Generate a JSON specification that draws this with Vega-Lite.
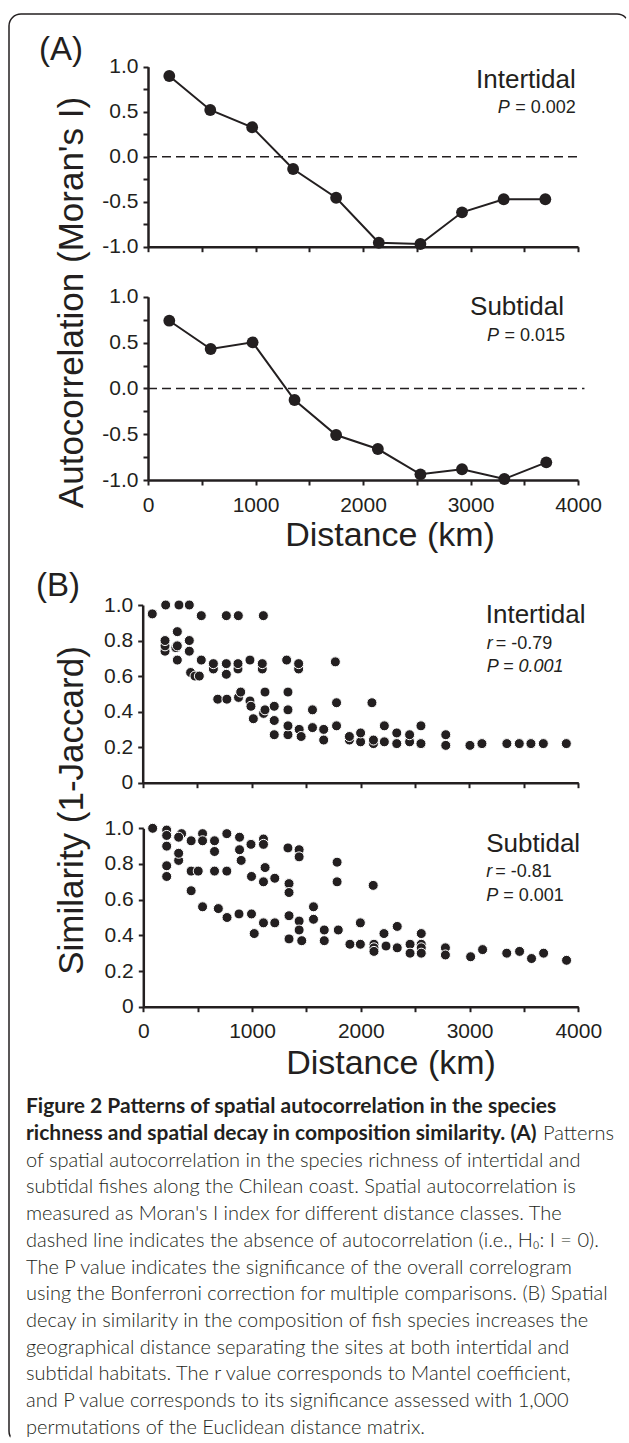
{
  "$schema": "https://vega.github.io/schema/vega-lite/v6.json",
  "width": 620,
  "height": 1429,
  "autosize": {"type": "none"},
  "padding": {"left": 9, "top": 14, "right": 0, "bottom": 0},
  "background": "white",
  "config": {
    "view": {
      "strokeWidth": 1.5,
      "cornerRadius": 12,
      "stroke": {
        "gradient": "linear", "x1": 0, "y1": 0, "x2": 1, "y2": 1,
        "stops": [
          {"offset": 0, "color": "#231f20"},
          {"offset": 0.4985, "color": "#231f20"},
          {"offset": 0.4995, "color": "rgba(35,31,32,0)"},
          {"offset": 1, "color": "rgba(35,31,32,0)"}
        ]
      }
    },
    "font": "Liberation Sans",
    "axis": {
      "grid": false,
      "domainColor": "#231f20",
      "domainWidth": 2.5,
      "tickColor": "#231f20",
      "tickWidth": 2,
      "tickSize": 5,
      "labelColor": "#231f20",
      "labelFont": "Liberation Sans",
      "labelFontSize": 21,
      "labelOverlap": false,
      "labelFlush": false,
      "titleColor": "#231f20",
      "titleFont": "Liberation Sans",
      "titleFontSize": 35,
      "titleFontWeight": "normal"
    },
    "text": {"font": "Liberation Sans", "color": "#231f20"}
  },
  "datasets": {
    "moranIntertidal": [
      {"distance": 198, "moran": 0.897},
      {"distance": 579, "moran": 0.519},
      {"distance": 969, "moran": 0.327},
      {"distance": 1350, "moran": -0.137},
      {"distance": 1750, "moran": -0.456},
      {"distance": 2147, "moran": -0.956},
      {"distance": 2534, "moran": -0.97},
      {"distance": 2921, "moran": -0.618},
      {"distance": 3309, "moran": -0.473},
      {"distance": 3696, "moran": -0.473}
    ],
    "moranSubtidal": [
      {"distance": 198, "moran": 0.739},
      {"distance": 583, "moran": 0.43},
      {"distance": 973, "moran": 0.503},
      {"distance": 1363, "moran": -0.127},
      {"distance": 1750, "moran": -0.509},
      {"distance": 2138, "moran": -0.662},
      {"distance": 2534, "moran": -0.938},
      {"distance": 2921, "moran": -0.883},
      {"distance": 3315, "moran": -0.989},
      {"distance": 3705, "moran": -0.807}
    ],
    "simIntertidal": [
      {"distance": 88, "similarity": 0.95}, {"distance": 211, "similarity": 1.0}, {"distance": 333, "similarity": 1.0}, {"distance": 428, "similarity": 1.0},
      {"distance": 538, "similarity": 0.94}, {"distance": 768, "similarity": 0.94}, {"distance": 878, "similarity": 0.94}, {"distance": 1108, "similarity": 0.94},
      {"distance": 205, "similarity": 0.74}, {"distance": 205, "similarity": 0.77}, {"distance": 205, "similarity": 0.80},
      {"distance": 318, "similarity": 0.69}, {"distance": 305, "similarity": 0.76}, {"distance": 318, "similarity": 0.77}, {"distance": 318, "similarity": 0.85},
      {"distance": 428, "similarity": 0.74}, {"distance": 428, "similarity": 0.80}, {"distance": 538, "similarity": 0.69},
      {"distance": 649, "similarity": 0.64}, {"distance": 649, "similarity": 0.67}, {"distance": 440, "similarity": 0.62}, {"distance": 480, "similarity": 0.60}, {"distance": 520, "similarity": 0.60},
      {"distance": 768, "similarity": 0.61}, {"distance": 768, "similarity": 0.67}, {"distance": 875, "similarity": 0.64}, {"distance": 875, "similarity": 0.67},
      {"distance": 985, "similarity": 0.69}, {"distance": 1098, "similarity": 0.64}, {"distance": 1098, "similarity": 0.67},
      {"distance": 1322, "similarity": 0.69}, {"distance": 1432, "similarity": 0.64}, {"distance": 1432, "similarity": 0.67}, {"distance": 1769, "similarity": 0.68},
      {"distance": 689, "similarity": 0.47}, {"distance": 773, "similarity": 0.47}, {"distance": 880, "similarity": 0.48}, {"distance": 900, "similarity": 0.51},
      {"distance": 985, "similarity": 0.46}, {"distance": 994, "similarity": 0.43}, {"distance": 1016, "similarity": 0.36},
      {"distance": 1123, "similarity": 0.51}, {"distance": 1110, "similarity": 0.39}, {"distance": 1123, "similarity": 0.41},
      {"distance": 1208, "similarity": 0.27}, {"distance": 1208, "similarity": 0.35}, {"distance": 1208, "similarity": 0.43},
      {"distance": 1334, "similarity": 0.27}, {"distance": 1334, "similarity": 0.32}, {"distance": 1334, "similarity": 0.41}, {"distance": 1334, "similarity": 0.51},
      {"distance": 1437, "similarity": 0.30}, {"distance": 1455, "similarity": 0.26},
      {"distance": 1559, "similarity": 0.31}, {"distance": 1559, "similarity": 0.41},
      {"distance": 1662, "similarity": 0.24}, {"distance": 1662, "similarity": 0.30},
      {"distance": 1780, "similarity": 0.32}, {"distance": 1780, "similarity": 0.45},
      {"distance": 1898, "similarity": 0.24}, {"distance": 1898, "similarity": 0.26},
      {"distance": 2001, "similarity": 0.23}, {"distance": 2001, "similarity": 0.28},
      {"distance": 2105, "similarity": 0.45}, {"distance": 2119, "similarity": 0.22}, {"distance": 2119, "similarity": 0.24},
      {"distance": 2219, "similarity": 0.23}, {"distance": 2219, "similarity": 0.32},
      {"distance": 2333, "similarity": 0.22}, {"distance": 2333, "similarity": 0.28},
      {"distance": 2451, "similarity": 0.23}, {"distance": 2451, "similarity": 0.27},
      {"distance": 2555, "similarity": 0.22}, {"distance": 2555, "similarity": 0.32},
      {"distance": 2783, "similarity": 0.21}, {"distance": 2783, "similarity": 0.27},
      {"distance": 3005, "similarity": 0.21}, {"distance": 3115, "similarity": 0.22}, {"distance": 3344, "similarity": 0.22},
      {"distance": 3458, "similarity": 0.22}, {"distance": 3565, "similarity": 0.22}, {"distance": 3679, "similarity": 0.22}, {"distance": 3890, "similarity": 0.22}
    ],
    "simSubtidal": [
      {"distance": 86, "similarity": 1.0},
      {"distance": 215, "similarity": 0.99}, {"distance": 215, "similarity": 0.96}, {"distance": 215, "similarity": 0.90}, {"distance": 215, "similarity": 0.79}, {"distance": 215, "similarity": 0.73},
      {"distance": 352, "similarity": 0.97}, {"distance": 325, "similarity": 0.95}, {"distance": 325, "similarity": 0.82}, {"distance": 325, "similarity": 0.86},
      {"distance": 440, "similarity": 0.93}, {"distance": 440, "similarity": 0.76}, {"distance": 440, "similarity": 0.65}, {"distance": 505, "similarity": 0.76},
      {"distance": 545, "similarity": 0.97}, {"distance": 545, "similarity": 0.93}, {"distance": 545, "similarity": 0.56},
      {"distance": 655, "similarity": 0.93}, {"distance": 655, "similarity": 0.87}, {"distance": 655, "similarity": 0.76}, {"distance": 690, "similarity": 0.55},
      {"distance": 768, "similarity": 0.97}, {"distance": 768, "similarity": 0.76}, {"distance": 770, "similarity": 0.50},
      {"distance": 885, "similarity": 0.95}, {"distance": 885, "similarity": 0.88}, {"distance": 900, "similarity": 0.82}, {"distance": 880, "similarity": 0.52},
      {"distance": 990, "similarity": 0.91}, {"distance": 995, "similarity": 0.73}, {"distance": 995, "similarity": 0.52}, {"distance": 1020, "similarity": 0.41},
      {"distance": 1105, "similarity": 0.94}, {"distance": 1105, "similarity": 0.91}, {"distance": 1120, "similarity": 0.78}, {"distance": 1105, "similarity": 0.70}, {"distance": 1105, "similarity": 0.47},
      {"distance": 1209, "similarity": 0.72}, {"distance": 1209, "similarity": 0.47},
      {"distance": 1330, "similarity": 0.89}, {"distance": 1340, "similarity": 0.69}, {"distance": 1340, "similarity": 0.64}, {"distance": 1340, "similarity": 0.51}, {"distance": 1340, "similarity": 0.38},
      {"distance": 1433, "similarity": 0.88}, {"distance": 1433, "similarity": 0.84}, {"distance": 1433, "similarity": 0.48}, {"distance": 1433, "similarity": 0.43}, {"distance": 1457, "similarity": 0.37},
      {"distance": 1565, "similarity": 0.56}, {"distance": 1565, "similarity": 0.49},
      {"distance": 1664, "similarity": 0.43}, {"distance": 1664, "similarity": 0.37},
      {"distance": 1782, "similarity": 0.81}, {"distance": 1782, "similarity": 0.70}, {"distance": 1793, "similarity": 0.43},
      {"distance": 1900, "similarity": 0.35}, {"distance": 1996, "similarity": 0.47}, {"distance": 1996, "similarity": 0.35},
      {"distance": 2114, "similarity": 0.68}, {"distance": 2121, "similarity": 0.35}, {"distance": 2121, "similarity": 0.33}, {"distance": 2121, "similarity": 0.31},
      {"distance": 2213, "similarity": 0.41}, {"distance": 2232, "similarity": 0.34},
      {"distance": 2335, "similarity": 0.45}, {"distance": 2335, "similarity": 0.33},
      {"distance": 2453, "similarity": 0.35}, {"distance": 2453, "similarity": 0.30},
      {"distance": 2556, "similarity": 0.41}, {"distance": 2556, "similarity": 0.35}, {"distance": 2556, "similarity": 0.33}, {"distance": 2556, "similarity": 0.30},
      {"distance": 2778, "similarity": 0.33}, {"distance": 2778, "similarity": 0.29},
      {"distance": 3010, "similarity": 0.28}, {"distance": 3120, "similarity": 0.32}, {"distance": 3342, "similarity": 0.30}, {"distance": 3460, "similarity": 0.31},
      {"distance": 3570, "similarity": 0.27}, {"distance": 3681, "similarity": 0.30}, {"distance": 3892, "similarity": 0.26}
    ],
    "caption": [
      {"line": 1, "part": "heading", "text": "Figure 2 Patterns of spatial autocorrelation in the species"},
      {"line": 2, "part": "heading", "text": "richness and spatial decay in composition similarity. (A)"},
      {"line": 2, "part": "tail", "text": "Patterns"},
      {"line": 3, "part": "body", "text": "of spatial autocorrelation in the species richness of intertidal and"},
      {"line": 4, "part": "body", "text": "subtidal fishes along the Chilean coast. Spatial autocorrelation is"},
      {"line": 5, "part": "body", "text": "measured as Moran's I index for different distance classes. The"},
      {"line": 6, "part": "body", "text": "dashed line indicates the absence of autocorrelation (i.e., H₀: I = 0)."},
      {"line": 7, "part": "body", "text": "The P value indicates the significance of the overall correlogram"},
      {"line": 8, "part": "body", "text": "using the Bonferroni correction for multiple comparisons. (B) Spatial"},
      {"line": 9, "part": "body", "text": "decay in similarity in the composition of fish species increases the"},
      {"line": 10, "part": "body", "text": "geographical distance separating the sites at both intertidal and"},
      {"line": 11, "part": "body", "text": "subtidal habitats.  The r value corresponds to Mantel coefficient,"},
      {"line": 12, "part": "body", "text": "and P value corresponds to its significance assessed with 1,000"},
      {"line": 13, "part": "body", "text": "permutations of the Euclidean distance matrix."}
    ]
  },
  "layer": [
    {
      "layer": [
        {
          "data": {"values": [{"h0": 0}]},
          "mark": {"type": "rule", "strokeDash": [9, 5], "strokeWidth": 1.5, "color": "#231f20"},
          "encoding": {
            "x": {"datum": 0, "type": "quantitative", "scale": {"domain": [0, 4000], "range": [139, 569], "nice": false, "zero": false},
              "axis": {"orient": "bottom", "offset": -1196.3, "values": [0, 500, 1000, 1500, 2000, 2500, 3000, 3500, 4000], "labels": false, "title": null}},
            "x2": {"datum": 4000},
            "y": {"field": "h0", "type": "quantitative", "scale": {"domain": [-1, 1], "range": [232.7, 52.7], "nice": false, "zero": false},
              "axis": {"orient": "left", "offset": -139, "values": [-1, -0.75, -0.5, -0.25, 0, 0.25, 0.5, 0.75, 1], "labelPadding": 5,
                "labelExpr": "datum.value % 0.5 === 0 ? replace(format(datum.value, '.1f'), '−', '-') : ''",
                "title": "Autocorrelation (Moran's I)", "titleAngle": 270, "titleX": -66, "titleY": 288, "titleAlign": "center", "titleBaseline": "alphabetic"}}
          }
        },
        {
          "data": {"name": "moranIntertidal"},
          "mark": {"type": "line", "color": "#231f20", "strokeWidth": 2},
          "encoding": {"x": {"field": "distance", "type": "quantitative"}, "y": {"field": "moran", "type": "quantitative"}}
        },
        {
          "data": {"name": "moranIntertidal"},
          "mark": {"type": "circle", "color": "#231f20", "size": 140, "opacity": 1},
          "encoding": {"x": {"field": "distance", "type": "quantitative"}, "y": {"field": "moran", "type": "quantitative"}}
        },
        {
          "data": {"values": [{}]},
          "mark": {"type": "text", "align": "left", "baseline": "alphabetic", "fontSize": 33},
          "encoding": {"x": {"datum": -1014}, "y": {"datum": 1.074}, "text": {"value": "(A)"}}
        },
        {
          "data": {"values": [{}]},
          "mark": {"type": "text", "align": "right", "baseline": "alphabetic", "fontSize": 26},
          "encoding": {"x": {"datum": 3979}, "y": {"datum": 0.76}, "text": {"value": "Intertidal"}}
        },
        {
          "data": {"values": [{}]},
          "mark": {"type": "text", "align": "right", "baseline": "alphabetic", "fontSize": 18},
          "encoding": {"x": {"datum": 3979}, "y": {"datum": 0.489}, "text": {"value": "= 0.002"}}
        },
        {
          "data": {"values": [{}]},
          "mark": {"type": "text", "align": "right", "baseline": "alphabetic", "fontSize": 18, "fontStyle": "italic", "dx": -66},
          "encoding": {"x": {"datum": 3979}, "y": {"datum": 0.489}, "text": {"value": "P"}}
        }
      ]
    },
    {
      "layer": [
        {
          "data": {"values": [{"h0": 0}]},
          "mark": {"type": "rule", "strokeDash": [9, 5], "strokeWidth": 1.5, "color": "#231f20"},
          "encoding": {
            "x": {"datum": 0, "type": "quantitative", "scale": {"domain": [0, 4000], "range": [139, 569], "nice": false, "zero": false},
              "axis": {"orient": "bottom", "offset": -963, "values": [0, 500, 1000, 1500, 2000, 2500, 3000, 3500, 4000], "labelPadding": 9,
                "labelExpr": "datum.value % 1000 === 0 ? format(datum.value, 'd') : ''",
                "title": "Distance (km)", "titleFontSize": 34, "titleX": 380.5, "titleY": 65.5, "titleAlign": "center", "titleBaseline": "alphabetic", "titleAngle": 0}},
            "x2": {"datum": 4060},
            "y": {"field": "h0", "type": "quantitative", "scale": {"domain": [-1, 1], "range": [466, 282.8], "nice": false, "zero": false},
              "axis": {"orient": "left", "offset": -139, "values": [-1, -0.75, -0.5, -0.25, 0, 0.25, 0.5, 0.75, 1], "labelPadding": 5,
                "labelExpr": "datum.value % 0.5 === 0 ? replace(format(datum.value, '.1f'), '−', '-') : ''", "title": null}}
          }
        },
        {
          "data": {"name": "moranSubtidal"},
          "mark": {"type": "line", "color": "#231f20", "strokeWidth": 2},
          "encoding": {"x": {"field": "distance", "type": "quantitative"}, "y": {"field": "moran", "type": "quantitative"}}
        },
        {
          "data": {"name": "moranSubtidal"},
          "mark": {"type": "circle", "color": "#231f20", "size": 140, "opacity": 1},
          "encoding": {"x": {"field": "distance", "type": "quantitative"}, "y": {"field": "moran", "type": "quantitative"}}
        },
        {
          "data": {"values": [{}]},
          "mark": {"type": "text", "align": "right", "baseline": "alphabetic", "fontSize": 26},
          "encoding": {"x": {"datum": 3870}, "y": {"datum": 0.801}, "text": {"value": "Subtidal"}}
        },
        {
          "data": {"values": [{}]},
          "mark": {"type": "text", "align": "right", "baseline": "alphabetic", "fontSize": 18},
          "encoding": {"x": {"datum": 3879}, "y": {"datum": 0.521}, "text": {"value": "= 0.015"}}
        },
        {
          "data": {"values": [{}]},
          "mark": {"type": "text", "align": "right", "baseline": "alphabetic", "fontSize": 18, "fontStyle": "italic", "dx": -66},
          "encoding": {"x": {"datum": 3879}, "y": {"datum": 0.521}, "text": {"value": "P"}}
        }
      ]
    },
    {
      "layer": [
        {
          "data": {"name": "simIntertidal"},
          "mark": {"type": "circle", "color": "#231f20", "size": 100, "opacity": 1, "stroke": "white", "strokeWidth": 1},
          "encoding": {
            "x": {"field": "distance", "type": "quantitative", "scale": {"domain": [0, 4000], "range": [133.7, 569.3], "nice": false, "zero": false},
              "axis": {"orient": "bottom", "offset": -660.3, "values": [0, 500, 1000, 1500, 2000, 2500, 3000, 3500, 4000], "labels": false, "title": null}},
            "y": {"field": "similarity", "type": "quantitative", "scale": {"domain": [0, 1], "range": [768.7, 591], "nice": false, "zero": false},
              "axis": {"orient": "left", "offset": -133.7, "values": [0, 0.2, 0.4, 0.6, 0.8, 1], "labelPadding": 5,
                "labelExpr": "datum.value === 0 ? '0' : format(datum.value, '.1f')",
                "title": "Similarity (1-Jaccard)", "titleAngle": 270, "titleX": -60.7, "titleY": 796, "titleAlign": "center", "titleBaseline": "alphabetic"}}
          }
        },
        {
          "data": {"values": [{}]},
          "mark": {"type": "text", "align": "left", "baseline": "alphabetic", "fontSize": 33},
          "encoding": {"x": {"datum": -980}, "y": {"datum": 1.048}, "text": {"value": "(B)"}}
        },
        {
          "data": {"values": [{}]},
          "mark": {"type": "text", "align": "left", "baseline": "alphabetic", "fontSize": 26},
          "encoding": {"x": {"datum": 3150}, "y": {"datum": 0.897}, "text": {"value": "Intertidal"}}
        },
        {
          "data": {"values": [{}]},
          "mark": {"type": "text", "align": "left", "baseline": "alphabetic", "fontSize": 18, "fontStyle": "italic"},
          "encoding": {"x": {"datum": 3159}, "y": {"datum": 0.752}, "text": {"value": "r"}}
        },
        {
          "data": {"values": [{}]},
          "mark": {"type": "text", "align": "left", "baseline": "alphabetic", "fontSize": 18, "dx": 9},
          "encoding": {"x": {"datum": 3159}, "y": {"datum": 0.752}, "text": {"value": "= -0.79"}}
        },
        {
          "data": {"values": [{}]},
          "mark": {"type": "text", "align": "left", "baseline": "alphabetic", "fontSize": 18, "fontStyle": "italic"},
          "encoding": {"x": {"datum": 3159}, "y": {"datum": 0.625}, "text": {"value": "P = 0.001"}}
        }
      ]
    },
    {
      "layer": [
        {
          "data": {"name": "simSubtidal"},
          "mark": {"type": "circle", "color": "#231f20", "size": 100, "opacity": 1, "stroke": "white", "strokeWidth": 1},
          "encoding": {
            "x": {"field": "distance", "type": "quantitative", "scale": {"domain": [0, 4000], "range": [134.3, 569.3], "nice": false, "zero": false},
              "axis": {"orient": "bottom", "offset": -436.3, "values": [0, 500, 1000, 1500, 2000, 2500, 3000, 3500, 4000], "labelPadding": 9,
                "labelExpr": "datum.value % 1000 === 0 ? format(datum.value, 'd') : ''",
                "title": "Distance (km)", "titleFontSize": 34, "titleX": 381.5, "titleY": 67, "titleAlign": "center", "titleBaseline": "alphabetic", "titleAngle": 0}},
            "y": {"field": "similarity", "type": "quantitative", "scale": {"domain": [0, 1], "range": [992.7, 814.3], "nice": false, "zero": false},
              "axis": {"orient": "left", "offset": -134.3, "values": [0, 0.2, 0.4, 0.6, 0.8, 1], "labelPadding": 5,
                "labelExpr": "datum.value === 0 ? '0' : format(datum.value, '.1f')", "title": null}}
          }
        },
        {
          "data": {"values": [{}]},
          "mark": {"type": "text", "align": "left", "baseline": "alphabetic", "fontSize": 26},
          "encoding": {"x": {"datum": 3153}, "y": {"datum": 0.865}, "text": {"value": "Subtidal"}}
        },
        {
          "data": {"values": [{}]},
          "mark": {"type": "text", "align": "left", "baseline": "alphabetic", "fontSize": 18, "fontStyle": "italic"},
          "encoding": {"x": {"datum": 3153}, "y": {"datum": 0.729}, "text": {"value": "r"}}
        },
        {
          "data": {"values": [{}]},
          "mark": {"type": "text", "align": "left", "baseline": "alphabetic", "fontSize": 18, "dx": 9},
          "encoding": {"x": {"datum": 3153}, "y": {"datum": 0.729}, "text": {"value": "= -0.81"}}
        },
        {
          "data": {"values": [{}]},
          "mark": {"type": "text", "align": "left", "baseline": "alphabetic", "fontSize": 18, "fontStyle": "italic"},
          "encoding": {"x": {"datum": 3153}, "y": {"datum": 0.594}, "text": {"value": "P"}}
        },
        {
          "data": {"values": [{}]},
          "mark": {"type": "text", "align": "left", "baseline": "alphabetic", "fontSize": 18, "dx": 17},
          "encoding": {"x": {"datum": 3153}, "y": {"datum": 0.594}, "text": {"value": "= 0.001"}}
        }
      ]
    },
    {
      "data": {"name": "caption"},
      "layer": [
        {
          "transform": [{"filter": "datum.part === 'heading'"}],
          "mark": {"type": "text", "align": "left", "baseline": "alphabetic", "font": "Lato", "fontSize": 21, "fontWeight": "bold", "color": "#231f20"},
          "encoding": {
            "x": {"datum": 0, "type": "quantitative", "scale": {"domain": [0, 1], "range": [17, 605], "nice": false, "zero": false}, "axis": null},
            "y": {"field": "line", "type": "quantitative", "scale": {"domain": [1, 13], "range": [1099.3, 1419.7], "nice": false, "zero": false}, "axis": null},
            "text": {"field": "text"}
          }
        },
        {
          "transform": [{"filter": "datum.part === 'body'"}],
          "mark": {"type": "text", "align": "left", "baseline": "alphabetic", "font": "Lato", "fontSize": 20, "fontWeight": 300, "color": "#231f20"},
          "encoding": {
            "x": {"datum": 0, "type": "quantitative"},
            "y": {"field": "line", "type": "quantitative"},
            "text": {"field": "text"}
          }
        },
        {
          "transform": [{"filter": "datum.part === 'tail'"}],
          "mark": {"type": "text", "align": "right", "baseline": "alphabetic", "font": "Lato", "fontSize": 20, "fontWeight": 300, "color": "#231f20"},
          "encoding": {
            "x": {"datum": 1, "type": "quantitative"},
            "y": {"field": "line", "type": "quantitative"},
            "text": {"field": "text"}
          }
        }
      ]
    }
  ],
  "resolve": {"scale": {"x": "independent", "y": "independent"}, "axis": {"x": "independent", "y": "independent"}}
}
